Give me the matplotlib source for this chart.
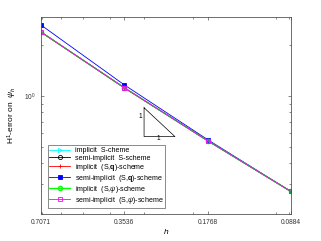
import numpy as np
import matplotlib
matplotlib.use('Agg')
import matplotlib.pyplot as plt
from matplotlib.ticker import FixedLocator, FixedFormatter, NullFormatter, LogLocator

plt.rcParams['font.family'] = ['Liberation Sans', 'DejaVu Sans']
plt.rcParams['mathtext.fontset'] = 'custom'
plt.rcParams['mathtext.rm'] = 'Liberation Sans'
plt.rcParams['mathtext.it'] = 'Liberation Sans:italic'
plt.rcParams['mathtext.bf'] = 'Liberation Sans:bold'

# mesh sizes and errors
h = [0.7071, 0.3536, 0.1768, 0.0884]
h_labels = ['0.7071', '0.3536', '0.1768', '0.0884']
err_impl_S = [2.38, 1.115, 0.543, 0.272]
err_semi_S = [2.38, 1.115, 0.543, 0.272]
err_impl_Sq = [2.38, 1.115, 0.543, 0.272]
err_semi_Sq = [2.62, 1.16, 0.551, 0.272]
err_impl_Spsi = [2.38, 1.115, 0.543, 0.272]
err_semi_Spsi = [2.38, 1.115, 0.543, 0.272]

# slope triangle
tri_h = [0.300, 0.300, 0.232, 0.300]
tri_e = [0.85, 0.574, 0.574, 0.85]

fig = plt.figure(figsize=(3.21, 2.41), dpi=100)
ax = fig.add_axes([0.128, 0.112, 0.778, 0.817])

gray = '#555555'
fs = 4.8
lfs = 5.1

ax.plot(h, err_impl_S, color='cyan', marker='>', mfc='none', ms=3, mew=0.6, lw=0.6, label='implicit  S-cheme')
ax.plot(h, err_semi_S, color='black', marker='o', mfc='none', ms=3, mew=0.6, lw=0.6, label='semi-implicit  S-scheme')
ax.plot(h, err_impl_Sq, color='red', marker='+', ms=3.5, mew=0.6, lw=0.6, label=r'implicit  (S,$\mathbf{q}$)-scheme')
ax.plot(h, err_semi_Sq, color='blue', marker='s', mfc='blue', ms=2.2, mew=0.6, lw=0.6, label=r'semi-implicit  (S,$\mathbf{q}$)-scheme')
ax.plot(h, err_impl_Spsi, color='#00ff00', marker='o', mfc='none', mew=1.0, ms=3, lw=1.0, label=r'implicit  (S,$\psi$)-scheme')
ax.plot(h, err_semi_Spsi, color='magenta', marker='s', mfc='none', ms=3, mew=0.6, lw=0.6, label=r'semi-implicit  (S,$\psi$)-scheme')

ax.plot(tri_h, tri_e, color='black', lw=0.5)
ax.text(0.310, 0.752, '1', fontsize=fs, ha='center', va='center')
ax.text(0.267, 0.558, '1', fontsize=fs, ha='center', va='center')

ax.set_xscale('log')
ax.set_yscale('log')
ax.set_xlim(0.7071, 0.0884)
ax.set_ylim(0.2, 2.92)

ax.xaxis.set_major_locator(FixedLocator(h))
ax.xaxis.set_major_formatter(FixedFormatter(h_labels))
ax.xaxis.set_minor_locator(LogLocator(base=10, subs=np.arange(1, 10)))
ax.xaxis.set_minor_formatter(NullFormatter())
ax.yaxis.set_minor_formatter(NullFormatter())

ax.tick_params(which='both', direction='in', top=True, right=True, color=gray,
               labelcolor='#333333', labelsize=fs, width=0.5)
ax.tick_params(which='major', length=2.5)
ax.tick_params(which='minor', length=1.5)
for s in ax.spines.values():
    s.set_color(gray)
    s.set_linewidth(0.6)

ax.set_xlabel('$h$', fontsize=6, labelpad=1)
ax.set_ylabel(r'H$^1$-error on  $\psi_h$', fontsize=6, labelpad=4)

leg = ax.legend(loc='lower left', bbox_to_anchor=(0.026, 0.03), fontsize=lfs,
                frameon=True, fancybox=False, edgecolor='#333333',
                handlelength=2.9, handletextpad=0.7, labelspacing=0.0,
                handleheight=1.12, borderpad=0.25, borderaxespad=0)
leg.get_frame().set_linewidth(0.5)

fig.savefig('out.png', dpi=100)
